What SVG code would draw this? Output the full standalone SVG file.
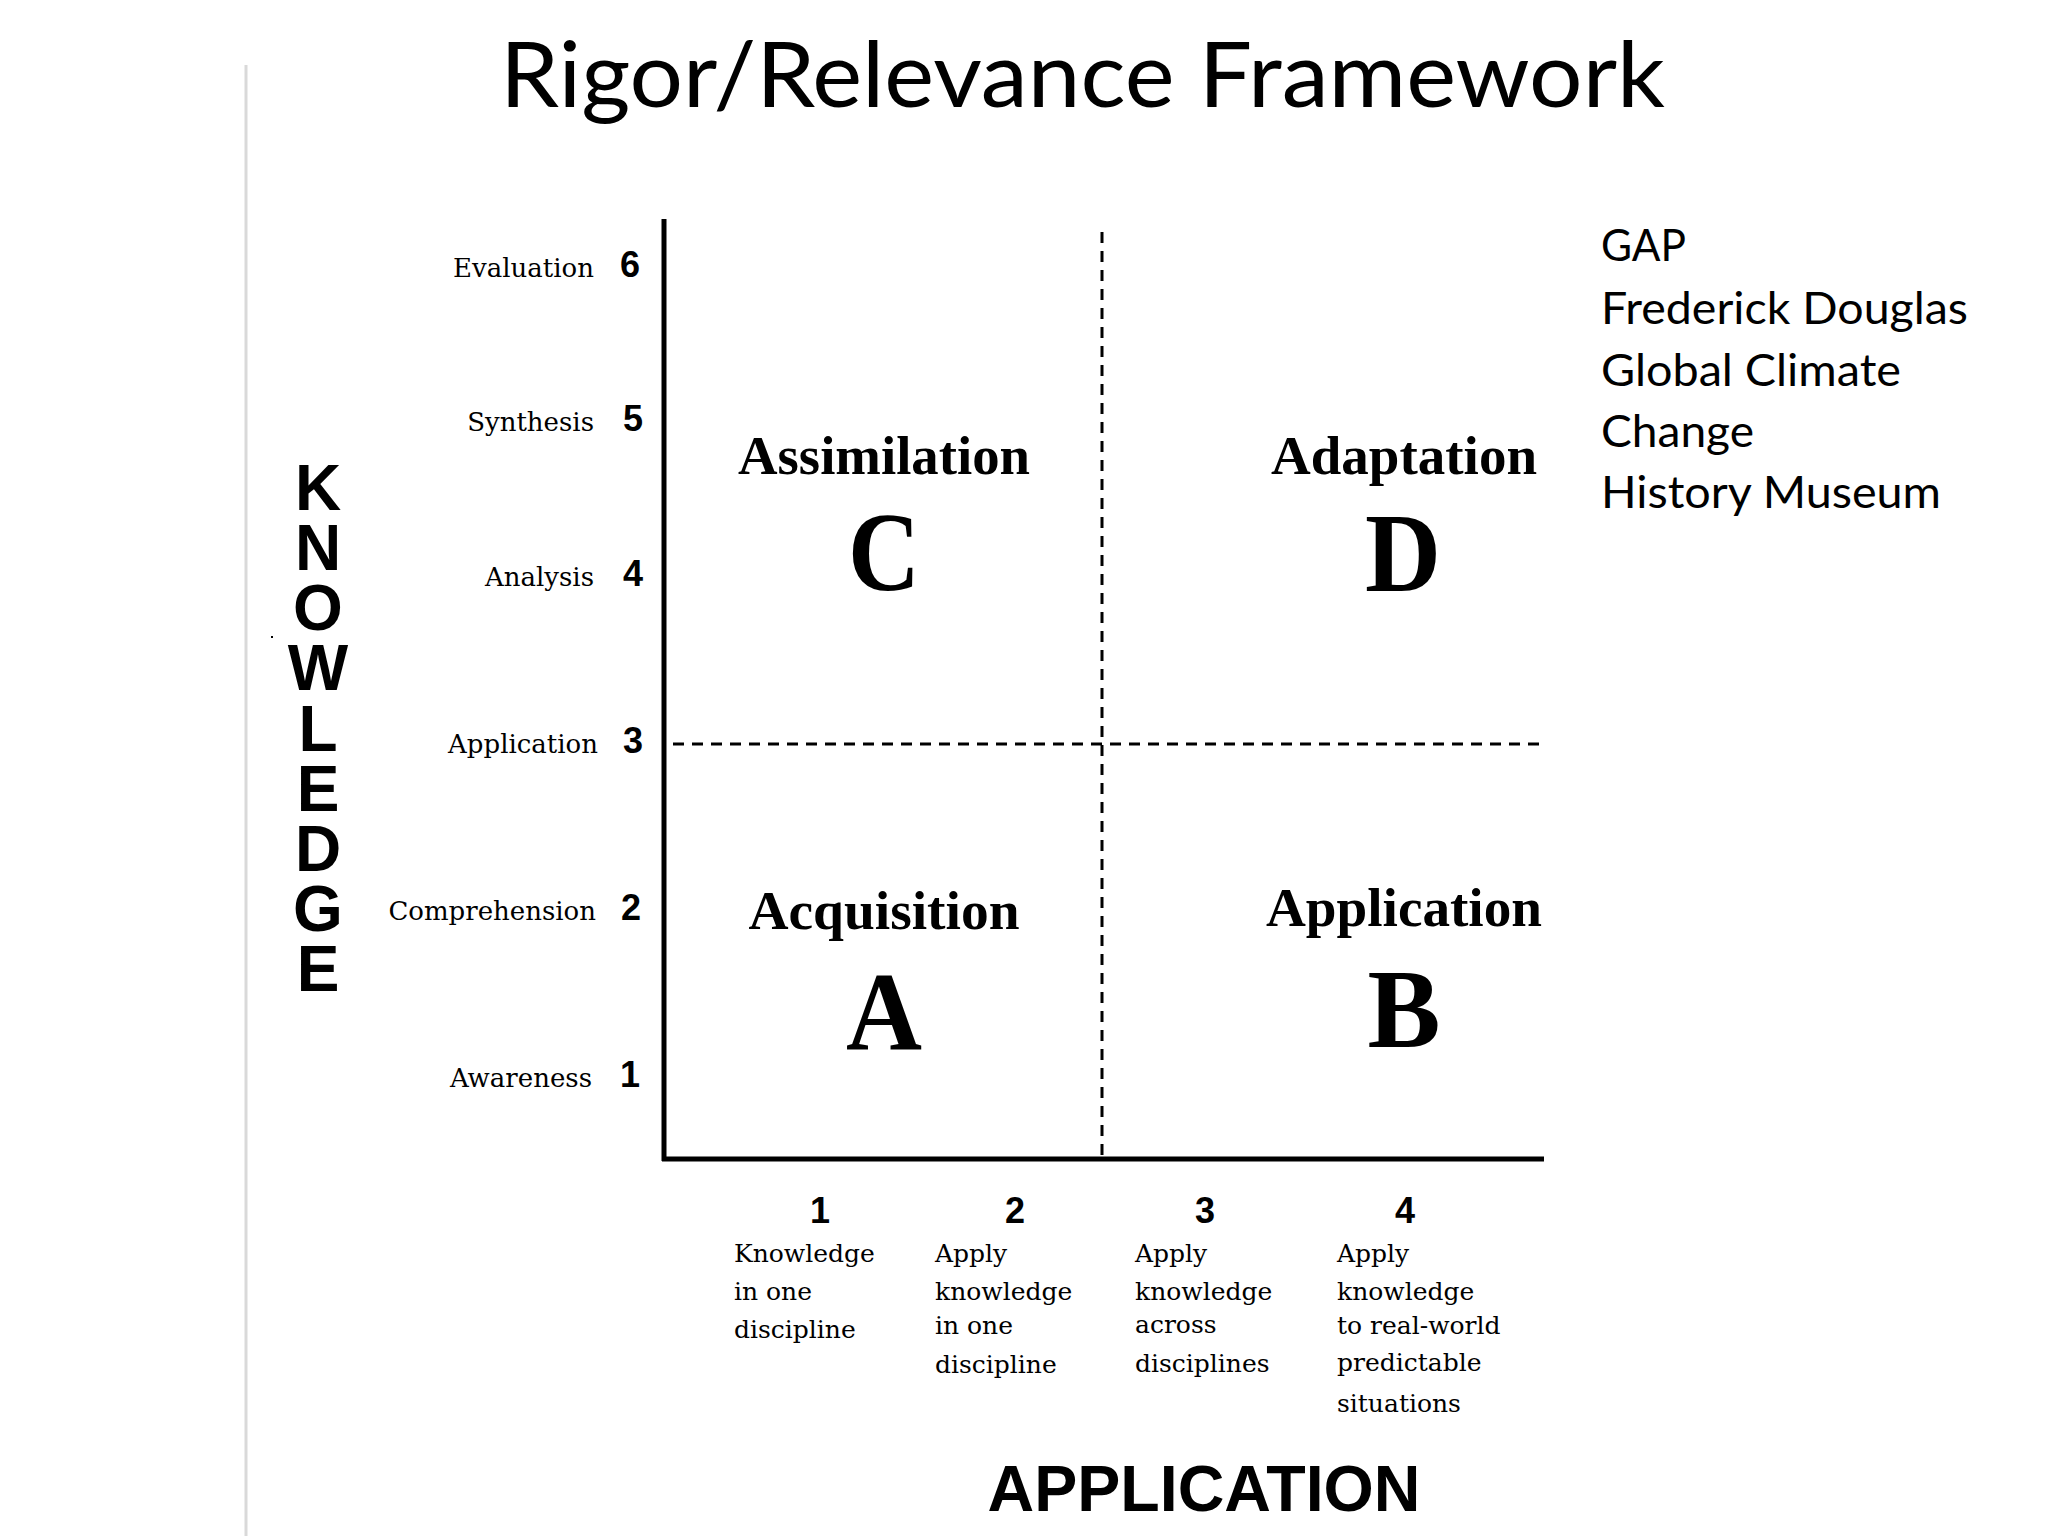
<svg xmlns="http://www.w3.org/2000/svg" width="2048" height="1536" viewBox="0 0 2048 1536">
<style>
.title{font-family:Lato,"Open Sans","Liberation Sans",sans-serif;font-size:92px;fill:#000}
.side{font-family:Lato,"Open Sans","Liberation Sans",sans-serif;font-size:44px;fill:#000}
.ylab{font-family:"DejaVu Serif","Liberation Serif",serif;font-size:26px;fill:#000;text-anchor:end}
.num{font-family:"Liberation Sans",Arial,sans-serif;font-weight:bold;font-size:36px;fill:#000;text-anchor:middle}
.big{font-family:"Liberation Sans",Arial,sans-serif;font-weight:bold;font-size:64px;fill:#000;text-anchor:middle}
.quad{font-family:"Liberation Serif","Times New Roman",serif;font-weight:bold;font-size:54px;fill:#000;text-anchor:middle}
.letter{font-family:"Liberation Serif","Times New Roman",serif;font-weight:bold;font-size:112px;fill:#000;text-anchor:middle}
.col{font-family:"DejaVu Serif","Liberation Serif",serif;font-size:25px;fill:#000}
.axis{stroke:#000;stroke-width:5;fill:none}
.dash{stroke:#000;stroke-width:3;stroke-dasharray:11 8;fill:none}
</style>
<rect width="2048" height="1536" fill="#fff"/>
<line x1="246" y1="65" x2="246" y2="1536" stroke="#d9d9d9" stroke-width="3"/>
<rect x="271" y="636" width="2" height="2" fill="#000"/>

<g id="title"><text class="title" x="500" y="107" textLength="1165" lengthAdjust="spacingAndGlyphs">Rigor/Relevance Framework</text></g>

<g id="examples">
<text class="side" x="1601" y="261" textLength="85" lengthAdjust="spacingAndGlyphs">GAP</text>
<text class="side" x="1601" y="324" textLength="367" lengthAdjust="spacingAndGlyphs">Frederick Douglas</text>
<text class="side" x="1601" y="386" textLength="300" lengthAdjust="spacingAndGlyphs">Global Climate</text>
<text class="side" x="1601" y="447" textLength="153" lengthAdjust="spacingAndGlyphs">Change</text>
<text class="side" x="1601" y="508" textLength="340" lengthAdjust="spacingAndGlyphs">History Museum</text>
</g>

<g id="knowledge-axis-title">
<text class="big"><tspan x="318" y="510">K</tspan><tspan x="318" y="570">N</tspan><tspan x="318" y="630">O</tspan><tspan x="318" y="690">W</tspan><tspan x="318" y="751">L</tspan><tspan x="318" y="811">E</tspan><tspan x="318" y="871">D</tspan><tspan x="318" y="931">G</tspan><tspan x="318" y="991">E</tspan></text>
</g>

<g id="y-levels">
<text class="ylab" x="594" y="277">Evaluation</text><text class="num" x="630" y="277">6</text>
<text class="ylab" x="594" y="431">Synthesis</text><text class="num" x="633" y="431">5</text>
<text class="ylab" x="594" y="586">Analysis</text><text class="num" x="633" y="586">4</text>
<text class="ylab" x="598" y="753">Application</text><text class="num" x="633" y="753">3</text>
<text class="ylab" x="596" y="920">Comprehension</text><text class="num" x="631" y="920">2</text>
<text class="ylab" x="592" y="1087">Awareness</text><text class="num" x="630" y="1087">1</text>
</g>

<g id="connectors">
<line class="axis" x1="664" y1="219" x2="664" y2="1161"/>
<line class="axis" x1="662" y1="1159" x2="1544" y2="1159"/>
<line class="dash" x1="1102" y1="232" x2="1102" y2="1157"/>
<line class="dash" x1="673" y1="744" x2="1541" y2="744"/>
</g>

<g id="quadrant-C">
<text class="quad" x="884" y="474" textLength="292" lengthAdjust="spacingAndGlyphs">Assimilation</text>
<text class="letter" x="884" y="590" textLength="72" lengthAdjust="spacingAndGlyphs">C</text>
</g>
<g id="quadrant-D">
<text class="quad" x="1404" y="474" textLength="266" lengthAdjust="spacingAndGlyphs">Adaptation</text>
<text class="letter" x="1403" y="591" textLength="76" lengthAdjust="spacingAndGlyphs">D</text>
</g>
<g id="quadrant-A">
<text class="quad" x="884" y="929" textLength="271" lengthAdjust="spacingAndGlyphs">Acquisition</text>
<text class="letter" x="884" y="1050" textLength="76" lengthAdjust="spacingAndGlyphs">A</text>
</g>
<g id="quadrant-B">
<text class="quad" x="1404" y="926" textLength="276" lengthAdjust="spacingAndGlyphs">Application</text>
<text class="letter" x="1404" y="1047" textLength="73" lengthAdjust="spacingAndGlyphs">B</text>
</g>

<g id="x-level-1">
<text class="num" x="820" y="1223">1</text>
<text class="col" x="734" y="1262">Knowledge</text>
<text class="col" x="734" y="1300">in one</text>
<text class="col" x="734" y="1338">discipline</text>
</g>
<g id="x-level-2">
<text class="num" x="1015" y="1223">2</text>
<text class="col" x="935" y="1262">Apply</text>
<text class="col" x="935" y="1300">knowledge</text>
<text class="col" x="935" y="1334">in one</text>
<text class="col" x="935" y="1373">discipline</text>
</g>
<g id="x-level-3">
<text class="num" x="1205" y="1223">3</text>
<text class="col" x="1135" y="1262">Apply</text>
<text class="col" x="1135" y="1300">knowledge</text>
<text class="col" x="1135" y="1333">across</text>
<text class="col" x="1135" y="1372">disciplines</text>
</g>
<g id="x-level-4">
<text class="num" x="1405" y="1223">4</text>
<text class="col" x="1337" y="1262">Apply</text>
<text class="col" x="1337" y="1300">knowledge</text>
<text class="col" x="1337" y="1334">to real-world</text>
<text class="col" x="1337" y="1371">predictable</text>
<text class="col" x="1337" y="1412">situations</text>
</g>

<g id="application-axis-title">
<text class="big" x="1204" y="1511" textLength="433" lengthAdjust="spacingAndGlyphs">APPLICATION</text>
</g>
</svg>
